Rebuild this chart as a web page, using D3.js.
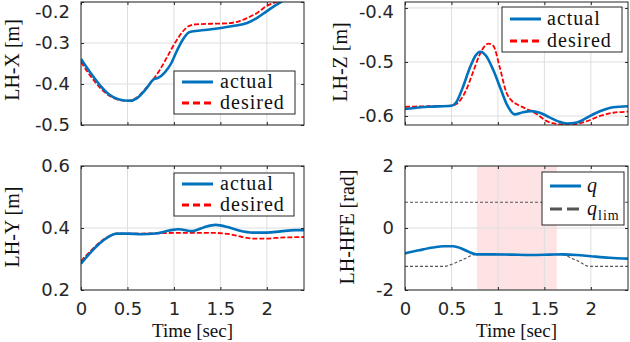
<!DOCTYPE html>
<html>
<head>
<meta charset="utf-8">
<script src="https://cdn.jsdelivr.net/npm/d3@7"></script>
<style>
  body { margin: 0; background: #fff; }
  .tick text { font-family: "DejaVu Sans", sans-serif; font-size: 18px; fill: #262626; }
  .lbl { font-family: "Liberation Serif", serif; font-size: 20px; fill: #111; }
  .xlbl { font-family: "Liberation Serif", serif; font-size: 19px; fill: #111; }
  .leg { font-family: "Liberation Serif", serif; font-size: 20px; letter-spacing: 1px; fill: #111; }
</style>
</head>
<body>
<div id="chart"></div>
<script>

/* data */

// LH-X
const lhxTimeAct = [0, 0.1, 0.2, 0.3, 0.4, 0.53, 0.6, 0.7, 0.78, 0.83, 0.9, 0.97, 1.03, 1.1, 1.17, 1.3, 1.49, 1.65, 1.78, 1.9, 1.99, 2.08, 2.15, 2.3, 2.42]
const lhxAct = [-0.339, -0.372, -0.402, -0.425, -0.437, -0.441, -0.435, -0.412, -0.389, -0.385, -0.372, -0.35, -0.32, -0.29, -0.273, -0.269, -0.264, -0.258, -0.252, -0.238, -0.224, -0.21, -0.2, -0.185, -0.175]
const lhxTimeDes = [0, 0.1, 0.2, 0.3, 0.4, 0.5, 0.6, 0.7, 0.78, 0.85, 0.92, 1.03, 1.15, 1.21, 1.4, 1.57, 1.7, 1.78, 1.9, 1.99, 2.1, 2.25, 2.42]
const lhxDes = [-0.346, -0.38, -0.408, -0.428, -0.438, -0.441, -0.433, -0.41, -0.388, -0.365, -0.337, -0.293, -0.26, -0.255, -0.253, -0.252, -0.247, -0.24, -0.226, -0.211, -0.2, -0.188, -0.178]

// LH-Z
const lhzTimeAct = [0, 0.25, 0.5, 0.55, 0.62, 0.7, 0.76, 0.81, 0.87, 0.95, 1.03, 1.1, 1.18, 1.27, 1.36, 1.45, 1.55, 1.65, 1.74, 1.85, 1.95, 2.05, 2.15, 2.24, 2.4]
const lhzAct = [-0.587, -0.583, -0.581, -0.575, -0.548, -0.51, -0.488, -0.481, -0.488, -0.515, -0.55, -0.58, -0.597, -0.593, -0.591, -0.594, -0.602, -0.61, -0.614, -0.612, -0.604, -0.595, -0.588, -0.584, -0.582]
const lhzTimeDes = [0, 0.25, 0.5, 0.56, 0.65, 0.73, 0.8, 0.86, 0.9, 0.95, 1.02, 1.09, 1.15, 1.2, 1.31, 1.42, 1.52, 1.65, 1.8, 1.95, 2.1, 2.24, 2.4]
const lhzDes = [-0.583, -0.582, -0.581, -0.577, -0.555, -0.52, -0.488, -0.47, -0.466, -0.47, -0.51, -0.556, -0.572, -0.578, -0.587, -0.597, -0.609, -0.615, -0.616, -0.61, -0.6, -0.594, -0.592]

// LH-Y
const lhyTimeAct = [0, 0.1, 0.2, 0.3, 0.38, 0.5, 0.65, 0.8, 0.95, 1.05, 1.2, 1.32, 1.45, 1.58, 1.7, 1.85, 2.0, 2.15, 2.3, 2.42]
const lhyAct = [0.285, 0.32, 0.35, 0.372, 0.382, 0.382, 0.38, 0.382, 0.392, 0.396, 0.39, 0.402, 0.41, 0.403, 0.392, 0.385, 0.385, 0.389, 0.393, 0.393]
const lhyTimeDes = [0, 0.1, 0.2, 0.3, 0.38, 0.6, 0.8, 1.0, 1.2, 1.45, 1.6, 1.75, 1.85, 2.0, 2.1, 2.25, 2.42]
const lhyDes = [0.293, 0.325, 0.353, 0.373, 0.382, 0.382, 0.383, 0.384, 0.384, 0.384, 0.38, 0.37, 0.366, 0.366, 0.368, 0.37, 0.371]

// LH-HFE joint angle and its limits
const hfeTime = [0, 0.15, 0.3, 0.42, 0.52, 0.6, 0.68, 0.77, 0.95, 1.15, 1.35, 1.55, 1.7, 1.85, 2.0, 2.2, 2.42]
const hfeQ = [-0.82, -0.72, -0.63, -0.59, -0.59, -0.65, -0.76, -0.85, -0.85, -0.86, -0.87, -0.86, -0.85, -0.87, -0.91, -0.96, -0.99]
const limTimeLow = [0, 0.41, 0.6, 0.77, 1.0, 1.3, 1.55, 1.66, 1.85, 1.99, 2.42]
const limLow = [-1.24, -1.24, -1.05, -0.85, -0.86, -0.87, -0.86, -0.85, -1.05, -1.24, -1.24]
const limTimeUp = [0, 2.42]
const limUp = [0.83, 0.83]
const limitBand = [0.774, 1.634]

const xTicks = [0, 0.5, 1, 1.5, 2]

/* chart area */

const svg = d3.select("#chart").append("svg")
  .attr("width", 630)
  .attr("height", 342)

const COLS = [{ LEFT: 81, RIGHT: 304 }, { LEFT: 405, RIGHT: 628 }]
const ROWS = [{ TOP: 2, BOTTOM: 125 }, { TOP: 166, BOTTOM: 290 }]

const BLUE = "#0072BD"
const AXC = "#262626"

const zip = (ts, vs) => ts.map((t, i) => ({ t: t, v: vs[i] }))

let clipId = 0

function panel(o) {
  const col = COLS[o.col], row = ROWS[o.row]
  const x = d3.scaleLinear().domain([0, 2.4]).range([col.LEFT, col.RIGHT])
  const y = d3.scaleLinear().domain(o.yDomain).range([row.BOTTOM, row.TOP])
  const g = svg.append("g")

  // limit band
  if (o.band) {
    g.append("rect")
      .attr("x", x(o.band[0])).attr("y", row.TOP)
      .attr("width", x(o.band[1]) - x(o.band[0]))
      .attr("height", row.BOTTOM - row.TOP)
      .attr("fill", "#fde3e3")
  }

  // grid
  g.selectAll(".gx").data(xTicks).enter().append("line")
    .attr("x1", d => x(d)).attr("x2", d => x(d))
    .attr("y1", row.TOP).attr("y2", row.BOTTOM)
    .attr("stroke", "#dedede").attr("stroke-width", 1)
  g.selectAll(".gy").data(o.yTicks).enter().append("line")
    .attr("x1", col.LEFT).attr("x2", col.RIGHT)
    .attr("y1", d => y(d)).attr("y2", d => y(d))
    .attr("stroke", "#dedede").attr("stroke-width", 1)

  // series
  const id = "clip" + (clipId++)
  svg.append("clipPath").attr("id", id).append("rect")
    .attr("x", col.LEFT).attr("y", row.TOP)
    .attr("width", col.RIGHT - col.LEFT).attr("height", row.BOTTOM - row.TOP)
  const lineGen = d3.line().x(d => x(d.t)).y(d => y(d.v)).curve(d3.curveMonotoneX)
  const lg = g.append("g").attr("clip-path", `url(#${id})`)
  o.series.forEach(s => {
    lg.append("path")
      .attr("d", lineGen(s.data))
      .attr("fill", "none")
      .attr("stroke", s.color)
      .attr("stroke-width", s.width)
      .attr("stroke-dasharray", s.dash || null)
  })

  // axes, ticks inward on all sides
  const left = d3.axisLeft(y).tickValues(o.yTicks).tickSizeInner(-3).tickSizeOuter(0)
    .tickPadding(11).tickFormat(d => String(d))
  const right = d3.axisRight(y).tickValues(o.yTicks).tickSizeInner(-3).tickSizeOuter(0).tickFormat("")
  const bottom = d3.axisBottom(x).tickValues(xTicks).tickSizeInner(-3).tickSizeOuter(0)
    .tickPadding(12).tickFormat(o.xLabels ? (d => String(d)) : "")
  const top = d3.axisTop(x).tickValues(xTicks).tickSizeInner(-3).tickSizeOuter(0).tickFormat("")

  const axes = [
    g.append("g").attr("transform", `translate(${col.LEFT},0)`).call(left),
    g.append("g").attr("transform", `translate(${col.RIGHT},0)`).call(right),
    g.append("g").attr("transform", `translate(0,${row.BOTTOM})`).call(bottom),
    g.append("g").attr("transform", `translate(0,${row.TOP})`).call(top)
  ]
  axes.forEach(a => {
    a.select(".domain").remove()
    a.selectAll(".tick line").attr("stroke", AXC)
  })
  // labels at the very top of the figure sit a bit lower so they stay visible
  axes[0].selectAll(".tick text")
    .attr("y", d => Math.max(0, 12 - y(d)))

  g.append("rect")
    .attr("x", col.LEFT).attr("y", row.TOP)
    .attr("width", col.RIGHT - col.LEFT).attr("height", row.BOTTOM - row.TOP)
    .attr("fill", "none").attr("stroke", AXC).attr("stroke-width", 1)

  // y label
  g.append("text").attr("class", "lbl")
    .attr("transform", `translate(${o.yLabelX},${o.yLabelY}) rotate(-90)`)
    .attr("text-anchor", "middle")
    .text(o.yLabel)

  if (o.xLabels) {
    g.append("text").attr("class", "xlbl")
      .attr("x", (col.LEFT + col.RIGHT) / 2).attr("y", 337)
      .attr("text-anchor", "middle")
      .text("Time [sec]")
  }

  // legend
  const L = o.legend
  g.append("rect")
    .attr("x", L.x).attr("y", L.y).attr("width", L.w).attr("height", L.h)
    .attr("fill", "#fff").attr("stroke", AXC).attr("stroke-width", 1)
  L.items.forEach((it, i) => {
    const cy = L.y + L.rows[i]
    g.append("line")
      .attr("x1", L.x + 8).attr("x2", L.x + 39)
      .attr("y1", cy).attr("y2", cy)
      .attr("stroke", it.color).attr("stroke-width", it.width)
      .attr("stroke-dasharray", it.dash || null)
    const t = g.append("text").attr("class", "leg")
      .attr("x", L.x + L.textX).attr("y", cy).attr("dy", "0.3em")
    if (it.math) {
      t.append("tspan").attr("font-style", "italic").text("q")
      if (it.sub) t.append("tspan").attr("font-size", "14px").attr("dy", "5").text(it.sub)
    } else {
      t.text(it.label)
    }
  })
}

const actDesLegend = [
  { label: "actual", color: BLUE, width: 3 },
  { label: "desired", color: "#ff0000", width: 3, dash: "7,4" }
]

panel({
  col: 0, row: 0, yDomain: [-0.5, -0.2], yTicks: [-0.5, -0.4, -0.3, -0.2],
  yLabel: "LH-X [m]", yLabelX: 19, yLabelY: 60,
  series: [
    { data: zip(lhxTimeDes, lhxDes), color: "#ff0000", width: 1.8, dash: "5,2" },
    { data: zip(lhxTimeAct, lhxAct), color: BLUE, width: 2.6 }
  ],
  legend: { x: 174, y: 71, w: 121, h: 43, rows: [11, 32], textX: 46, items: actDesLegend }
})

panel({
  col: 1, row: 0, yDomain: [-0.6167, -0.389], yTicks: [-0.6, -0.5, -0.4],
  yLabel: "LH-Z [m]", yLabelX: 347, yLabelY: 62,
  series: [
    { data: zip(lhzTimeDes, lhzDes), color: "#ff0000", width: 1.8, dash: "5,2" },
    { data: zip(lhzTimeAct, lhzAct), color: BLUE, width: 2.6 }
  ],
  legend: { x: 502, y: 7, w: 120, h: 45, rows: [12, 34], textX: 45, items: actDesLegend }
})

panel({
  col: 0, row: 1, yDomain: [0.2, 0.6], yTicks: [0.2, 0.4, 0.6], xLabels: true,
  yLabel: "LH-Y [m]", yLabelX: 19, yLabelY: 227,
  series: [
    { data: zip(lhyTimeDes, lhyDes), color: "#ff0000", width: 1.8, dash: "5,2" },
    { data: zip(lhyTimeAct, lhyAct), color: BLUE, width: 2.6 }
  ],
  legend: { x: 174, y: 173, w: 120, h: 43, rows: [11, 32], textX: 46, items: actDesLegend }
})

panel({
  col: 1, row: 1, yDomain: [-2, 2], yTicks: [-2, 0, 2], xLabels: true, band: limitBand,
  yLabel: "LH-HFE [rad]", yLabelX: 354, yLabelY: 227,
  series: [
    { data: zip(limTimeUp, limUp), color: "#555", width: 1.2, dash: "3,2" },
    { data: zip(limTimeLow, limLow), color: "#555", width: 1.2, dash: "3,2" },
    { data: zip(hfeTime, hfeQ), color: BLUE, width: 2.6 }
  ],
  legend: {
    x: 542, y: 172, w: 82, h: 53, rows: [14, 37], textX: 45,
    items: [
      { math: true, color: BLUE, width: 3 },
      { math: true, sub: "lim", color: "#555", width: 3, dash: "12,5" }
    ]
  }
})

</script>
</body>
</html>
